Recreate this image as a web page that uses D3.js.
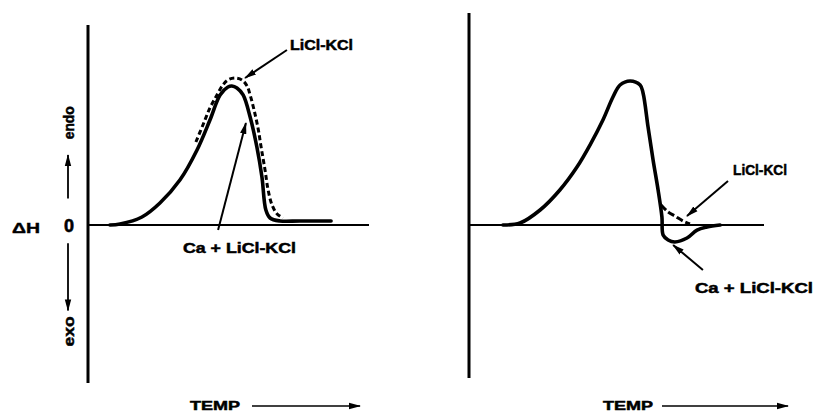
<!DOCTYPE html>
<html>
<head>
<meta charset="utf-8">
<script src="https://cdn.jsdelivr.net/npm/d3@7"></script>
<style>
  html, body { margin: 0; padding: 0; background: #fff; }
  svg { display: block; }
  text { font-family: "Liberation Sans", Arial, sans-serif; font-weight: bold; fill: #000; }
</style>
</head>
<body>
<svg id="chart" width="814" height="415"></svg>
<script>
// ---- DTA traces (temperature in arbitrary units 0-100, ΔH in arbitrary units, endo positive) ----

// Left panel: Ca + LiCl-KCl (solid)
const leftSolidTemp = [7.8, 11.4, 19.2, 25.6, 32.7, 38.8, 43.4, 47.0, 49.8, 51.2, 53.0, 55.2, 57.7, 60.1, 61.9, 63.3, 64.8, 68.3, 75.4, 86.5];
const leftSolidDH   = [0, 0.7, 5.7, 15.7, 32.1, 53.6, 75, 92.9, 98.6, 99.3, 97.9, 92.9, 77.1, 55.7, 34.3, 10.7, 5, 2.9, 2.9, 2.9];

// Left panel: LiCl-KCl (dashed)
const leftDashTemp = [38.4, 40.9, 43.4, 45.9, 48.0, 49.8, 52.3, 54.8, 56.6, 57.7, 59.1, 60.5, 61.6, 63.0, 64.1, 65.5, 67.3, 69.4];
const leftDashDH   = [59.3, 71.4, 83.6, 92.9, 100, 103.6, 105, 103.6, 99.3, 92.9, 82.1, 69.3, 55.7, 39.3, 25, 14.3, 7.9, 5];

// Right panel: Ca + LiCl-KCl (solid), with exothermic dip after the peak
const rightSolidTemp = [11.5, 17.3, 24.1, 30.8, 36.6, 41.0, 45.4, 48.8, 51.2, 54.6, 58.0, 59.0, 60.7, 62.4, 64.1, 65.4, 65.8, 67.5, 69.8, 73.9, 77.3, 80.7, 85.1];
const rightSolidDH   = [0, 1.4, 10.7, 25, 41.4, 57.1, 75, 91.4, 100, 102.9, 100, 94.3, 70, 46.4, 25, 5.7, -7.1, -10.7, -12.1, -9.3, -3.6, -1.4, 0];

// Right panel: LiCl-KCl (dashed) tail
const rightDashTemp = [65.1, 67.5, 69.8, 72.5, 74.9];
const rightDashDH   = [14.3, 9.3, 6.4, 2.9, 0.7];

// Callouts: label text, label anchor (temp, ΔH), arrow from -> to (temp, ΔH)
const leftLabels  = ["LiCl-KCl", "Ca + LiCl-KCl"];
const leftLabelAt = [[71.9, 125], [33.8, -20]];
const leftLabelLen = [63, 113];
const leftArrows  = [[[70.8, 125], [55.9, 105]], [[46.3, -3.6], [56.2, 72.9]]];

const rightLabels  = ["LiCl-KCl", "Ca + LiCl-KCl"];
const rightLabelAt = [[89.5, 35.7], [76.6, -48.6]];
const rightLabelLen = [54, 118];
const rightArrows  = [[[87.8, 31.4], [73.9, 6.4]], [[79.3, -32.1], [69.2, -14.3]]];

const yAxisWords = ["ΔH", "0", "endo", "exo"];
const xAxisWord = "TEMP";

// ---- drawing ----
const svg = d3.select("#chart");

svg.append("defs").append("marker")
  .attr("id", "head")
  .attr("viewBox", "0 -4 12 8")
  .attr("refX", 11).attr("refY", 0)
  .attr("markerUnits", "userSpaceOnUse")
  .attr("markerWidth", 12).attr("markerHeight", 8)
  .attr("orient", "auto")
  .append("path").attr("d", "M0,-3.2L12,0L0,3.2Z").attr("fill", "#000");

const yScale = d3.scaleLinear().domain([-100, 100]).range([365, 85]);

const panels = [
  { x: d3.scaleLinear().domain([0, 100]).range([88, 369]), top: 25, bottom: 383,
    solid: [leftSolidTemp, leftSolidDH], dash: [leftDashTemp, leftDashDH],
    labels: leftLabels, labelAt: leftLabelAt, labelLen: leftLabelLen, arrows: leftArrows,
    dashArray: "5,3", tempX: 190, tempArrow: [252, 360] },
  { x: d3.scaleLinear().domain([0, 100]).range([469, 764]), top: 13, bottom: 378,
    solid: [rightSolidTemp, rightSolidDH], dash: [rightDashTemp, rightDashDH],
    labels: rightLabels, labelAt: rightLabelAt, labelLen: rightLabelLen, arrows: rightArrows,
    dashArray: "7,3", tempX: 603, tempArrow: [662, 788] }
];

const zip = (a, b) => a.map((v, i) => [v, b[i]]);

panels.forEach(p => {
  const g = svg.append("g");
  const x = p.x;

  // vertical ΔH axis
  g.append("line")
    .attr("x1", x(0)).attr("x2", x(0))
    .attr("y1", p.top).attr("y2", p.bottom)
    .attr("stroke", "#000").attr("stroke-width", 3);

  // zero baseline
  g.append("line")
    .attr("x1", x(0)).attr("x2", x(100))
    .attr("y1", yScale(0)).attr("y2", yScale(0))
    .attr("stroke", "#000").attr("stroke-width", 1.8);

  const line = d3.line()
    .x(d => x(d[0])).y(d => yScale(d[1]))
    .curve(d3.curveCatmullRom.alpha(0.5));

  // LiCl-KCl dashed trace
  g.append("path")
    .datum(zip(p.dash[0], p.dash[1]))
    .attr("d", line)
    .attr("fill", "none").attr("stroke", "#000")
    .attr("stroke-width", 3).attr("stroke-dasharray", p.dashArray);

  // Ca + LiCl-KCl solid trace
  g.append("path")
    .datum(zip(p.solid[0], p.solid[1]))
    .attr("d", line)
    .attr("fill", "none").attr("stroke", "#000")
    .attr("stroke-width", 3.6).attr("stroke-linejoin", "round").attr("stroke-linecap", "round");

  // callout arrows
  p.arrows.forEach(a => {
    g.append("line")
      .attr("x1", x(a[0][0])).attr("y1", yScale(a[0][1]))
      .attr("x2", x(a[1][0])).attr("y2", yScale(a[1][1]))
      .attr("stroke", "#000").attr("stroke-width", 2)
      .attr("marker-end", "url(#head)");
  });

  // callout labels
  p.labels.forEach((t, i) => {
    g.append("text")
      .attr("x", x(p.labelAt[i][0])).attr("y", yScale(p.labelAt[i][1]))
      .attr("font-size", 15)
      .attr("textLength", p.labelLen[i]).attr("lengthAdjust", "spacingAndGlyphs")
      .attr("stroke", "#000").attr("stroke-width", 0.5)
      .text(t);
  });

  // temperature direction label and arrow
  g.append("text")
    .attr("x", p.tempX).attr("y", 410)
    .attr("font-size", 13)
    .attr("textLength", 50).attr("lengthAdjust", "spacingAndGlyphs")
    .attr("stroke", "#000").attr("stroke-width", 0.5)
    .text(xAxisWord);
  g.append("line")
    .attr("x1", p.tempArrow[0]).attr("x2", p.tempArrow[1])
    .attr("y1", 406).attr("y2", 406)
    .attr("stroke", "#000").attr("stroke-width", 1.6)
    .attr("marker-end", "url(#head)");
});

// ΔH axis wording on the left panel
const y0 = yScale(0);
svg.append("text").attr("x", 12).attr("y", y0 + 8)
  .attr("font-size", 15).attr("textLength", 28).attr("lengthAdjust", "spacingAndGlyphs")
  .attr("stroke", "#000").attr("stroke-width", 0.4)
  .text(yAxisWords[0]);
svg.append("text").attr("x", 69).attr("y", y0 + 7)
  .attr("text-anchor", "middle").attr("font-size", 18)
  .attr("stroke", "#000").attr("stroke-width", 0.6)
  .text(yAxisWords[1]);
svg.append("text")
  .attr("transform", `translate(74, ${yScale(73)}) rotate(-90)`)
  .attr("text-anchor", "middle").attr("font-size", 15)
  .attr("textLength", 33).attr("lengthAdjust", "spacingAndGlyphs")
  .attr("stroke", "#000").attr("stroke-width", 0.5)
  .text(yAxisWords[2]);
svg.append("text")
  .attr("transform", `translate(74, ${yScale(-76)}) rotate(-90)`)
  .attr("text-anchor", "middle").attr("font-size", 15)
  .attr("textLength", 30).attr("lengthAdjust", "spacingAndGlyphs")
  .attr("stroke", "#000").attr("stroke-width", 0.5)
  .text(yAxisWords[3]);

// endo / exo direction arrows
svg.append("line").attr("x1", 68).attr("x2", 68)
  .attr("y1", yScale(19)).attr("y2", yScale(50))
  .attr("stroke", "#000").attr("stroke-width", 1.8).attr("marker-end", "url(#head)");
svg.append("line").attr("x1", 68).attr("x2", 68)
  .attr("y1", yScale(-13)).attr("y2", yScale(-61))
  .attr("stroke", "#000").attr("stroke-width", 1.8).attr("marker-end", "url(#head)");
</script>
</body>
</html>
